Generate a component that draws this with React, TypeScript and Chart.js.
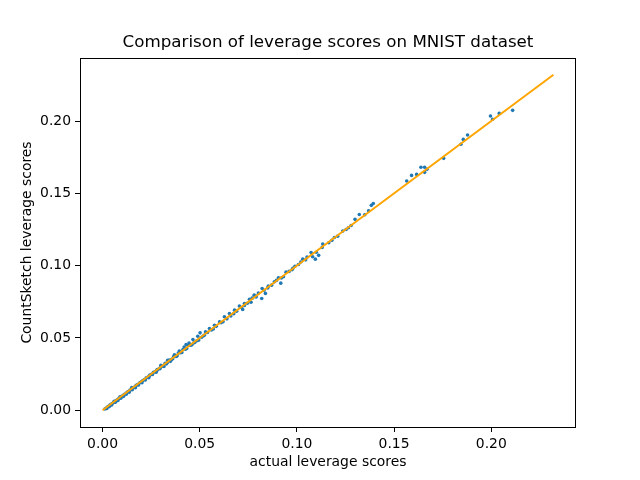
import React, { useEffect, useRef } from "react";
import { Chart, registerables } from "chart.js";

Chart.register(...registerables);

const title = "Comparison of leverage scores on MNIST dataset";
const xLabel = "actual leverage scores";
const yLabel = "CountSketch leverage scores";
const tickValues = [0, 0.05, 0.1, 0.15, 0.2];

const actualScores = [
  0.0012, 0.0018, 0.0025, 0.0031, 0.0038, 0.0044, 0.005, 0.0057, 0.0063, 0.007,
  0.0076, 0.0083, 0.009, 0.0097, 0.0104, 0.0111, 0.0118, 0.0126, 0.0133, 0.0141,
  0.0149, 0.0157, 0.0165, 0.0173, 0.0181, 0.019, 0.0198, 0.0207, 0.0216, 0.0225,
  0.0234, 0.0243, 0.0252, 0.0262, 0.0271, 0.0281, 0.0291, 0.0301, 0.0311, 0.0322,
  0.0333, 0.0344, 0.0355, 0.0366, 0.0378, 0.039, 0.0402, 0.0414, 0.0427, 0.044,
  0.0452, 0.015, 0.024, 0.03, 0.0335, 0.037, 0.0395, 0.042, 0.043, 0.0445,
  0.046, 0.0475, 0.0485, 0.009, 0.006, 0.02, 0.028, 0.047, 0.051, 0.052,
  0.054, 0.056, 0.0585, 0.061, 0.064, 0.066, 0.069, 0.0715, 0.0745, 0.077,
  0.079, 0.083, 0.087, 0.0895, 0.096, 0.099, 0.102, 0.0465, 0.049, 0.0502,
  0.053, 0.055, 0.0576, 0.0602, 0.0627, 0.0653, 0.0679, 0.0704, 0.0721, 0.073,
  0.0764, 0.0756, 0.078, 0.0819, 0.0802, 0.0821, 0.0838, 0.0853, 0.0884, 0.0905,
  0.0917, 0.0931, 0.0944, 0.0979, 0.1008, 0.103, 0.1052, 0.1073, 0.1081, 0.1095,
  0.1112, 0.113, 0.1133, 0.1164, 0.1193, 0.121, 0.1236, 0.1253, 0.1279, 0.1299,
  0.1321, 0.1349, 0.1369, 0.1383, 0.1393, 0.1565, 0.159, 0.1616, 0.1657, 0.1638,
  0.1657, 0.1669, 0.1755, 0.1844, 0.1856, 0.1878, 0.1996, 0.2007, 0.2041, 0.211,
  0.0022, 0.0035, 0.0047, 0.0066, 0.0079, 0.0094, 0.0108, 0.0122, 0.0137, 0.0153,
  0.0169, 0.0185, 0.0203, 0.022, 0.0238, 0.0257, 0.0276, 0.0296, 0.0316, 0.0328,
  0.0349, 0.0361, 0.0384, 0.0408, 0.0433, 0.0458, 0.0495, 0.0525, 0.057, 0.062,
  0.0675, 0.073, 0.079, 0.085, 0.092, 0.0975, 0.1045, 0.11, 0.118, 0.1265,
];

const sketchScores = [
  0.0008, 0.0014, 0.0022, 0.0027, 0.0035, 0.0041, 0.0046, 0.0054, 0.0059, 0.0067,
  0.0072, 0.008, 0.0086, 0.0095, 0.01, 0.0108, 0.0114, 0.0124, 0.0129, 0.0139,
  0.0145, 0.0155, 0.0161, 0.0172, 0.0177, 0.0188, 0.0194, 0.0206, 0.0212, 0.0224,
  0.0229, 0.0243, 0.0248, 0.0262, 0.0266, 0.0282, 0.0287, 0.0303, 0.0306, 0.0325,
  0.0328, 0.0347, 0.035, 0.0372, 0.0372, 0.0395, 0.0397, 0.042, 0.0422, 0.0448,
  0.045, 0.0156, 0.0236, 0.031, 0.0345, 0.0383, 0.041, 0.0437, 0.0455, 0.0465,
  0.0455, 0.047, 0.048, 0.0093, 0.0062, 0.0196, 0.0275, 0.0466, 0.0505, 0.0515,
  0.0538, 0.0555, 0.058, 0.0605, 0.0632, 0.0652, 0.0685, 0.071, 0.074, 0.0775,
  0.079, 0.083, 0.0865, 0.0898, 0.096, 0.0995, 0.1025, 0.0489, 0.0512, 0.0535,
  0.0542, 0.0565, 0.0588, 0.0611, 0.0646, 0.0669, 0.0692, 0.072, 0.0697, 0.0738,
  0.0747, 0.0768, 0.0796, 0.0773, 0.081, 0.0842, 0.0808, 0.0858, 0.0888, 0.0916,
  0.0879, 0.0923, 0.0955, 0.0981, 0.1008, 0.1045, 0.1059, 0.1091, 0.1061, 0.1045,
  0.1071, 0.1126, 0.1149, 0.1158, 0.1195, 0.1204, 0.1239, 0.125, 0.1278, 0.132,
  0.1354, 0.1352, 0.1379, 0.1417, 0.143, 0.1585, 0.1624, 0.1631, 0.1645, 0.168,
  0.168, 0.1666, 0.1742, 0.1839, 0.1873, 0.1903, 0.2035, 0.2012, 0.2053, 0.2074,
  0.0012, 0.0025, 0.0036, 0.0055, 0.0067, 0.0083, 0.0096, 0.0111, 0.0124, 0.0142,
  0.0156, 0.0174, 0.019, 0.0209, 0.0225, 0.0247, 0.0263, 0.0288, 0.0303, 0.032,
  0.0338, 0.0356, 0.0376, 0.04, 0.0427, 0.0451, 0.0485, 0.052, 0.0562, 0.0612,
  0.0668, 0.0725, 0.0783, 0.0846, 0.0915, 0.0972, 0.104, 0.1093, 0.1175, 0.1262,
];

const lineX = [0, 0.232];
const lineY = [0, 0.232];

const FONT = "'DejaVu Sans', sans-serif";

export default function App() {
  const ref = useRef<HTMLCanvasElement | null>(null);

  useEffect(() => {
    if (!ref.current) return;
    const framePlugin = {
      id: "frame",
      afterDraw(chart: any) {
        const { ctx, chartArea } = chart;
        ctx.save();
        ctx.strokeStyle = "#000";
        ctx.lineWidth = 1;
        ctx.strokeRect(
          Math.round(chartArea.left) + 0.5,
          Math.round(chartArea.top) + 0.5,
          Math.round(chartArea.right - chartArea.left) - 1,
          Math.round(chartArea.bottom - chartArea.top)
        );
        ctx.fillStyle = "#000";
        ctx.textAlign = "center";
        ctx.textBaseline = "middle";
        ctx.font = `16.7px ${FONT}`;
        ctx.fillText(title, (chartArea.left + chartArea.right) / 2, 43);
        ctx.font = `13.9px ${FONT}`;
        ctx.fillText(xLabel, (chartArea.left + chartArea.right) / 2, 462);
        ctx.translate(27, (chartArea.top + chartArea.bottom) / 2);
        ctx.rotate(-Math.PI / 2);
        ctx.fillText(yLabel, 0, 0);
        ctx.restore();
      },
    };

    const axisCommon = (fitSize: number, horizontal: boolean) => ({
      type: "linear" as const,
      min: -0.0116,
      max: 0.2436,
      grid: {
        display: true,
        drawOnChartArea: false,
        drawTicks: true,
        tickLength: 5,
        color: "#000",
        lineWidth: 1,
      },
      border: { display: false },
      ticks: {
        color: "#000",
        padding: 4,
        font: { family: FONT, size: 13.9 },
        callback: (v: any) => Number(v).toFixed(2),
      },
      afterBuildTicks: (scale: any) => {
        scale.ticks = tickValues.map((v) => ({ value: v }));
      },
      afterFit: (scale: any) => {
        if (horizontal) scale.height = fitSize;
        else scale.width = fitSize;
      },
    });

    const chart = new Chart(ref.current, {
      type: "scatter",
      data: {
        datasets: [
          {
            type: "line",
            data: lineX.map((x, i) => ({ x, y: lineY[i] })),
            borderColor: "#ffa500",
            borderWidth: 2,
            pointRadius: 0,
            fill: false,
          } as any,
          {
            data: actualScores.map((x, i) => ({ x, y: sketchScores[i] })),
            backgroundColor: "#1f77b4",
            borderWidth: 0,
            pointRadius: 1.8,
          },
        ],
      },
      options: {
        responsive: false,
        animation: false,
        devicePixelRatio: 1,
        layout: { padding: { top: 58, right: 64, left: 0, bottom: 0 } },
        plugins: {
          legend: { display: false },
          title: { display: false },
          tooltip: { enabled: false },
        },
        scales: {
          x: { ...axisCommon(53, true), position: "bottom" },
          y: { ...axisCommon(80, false), position: "left" },
        } as any,
      },
      plugins: [framePlugin],
    });
    return () => chart.destroy();
  }, []);

  return (
    <div style={{ position: "absolute", left: 0, top: 0, width: 640, height: 480, background: "#fff" }}>
      <canvas ref={ref} width={640} height={480} />
    </div>
  );
}
